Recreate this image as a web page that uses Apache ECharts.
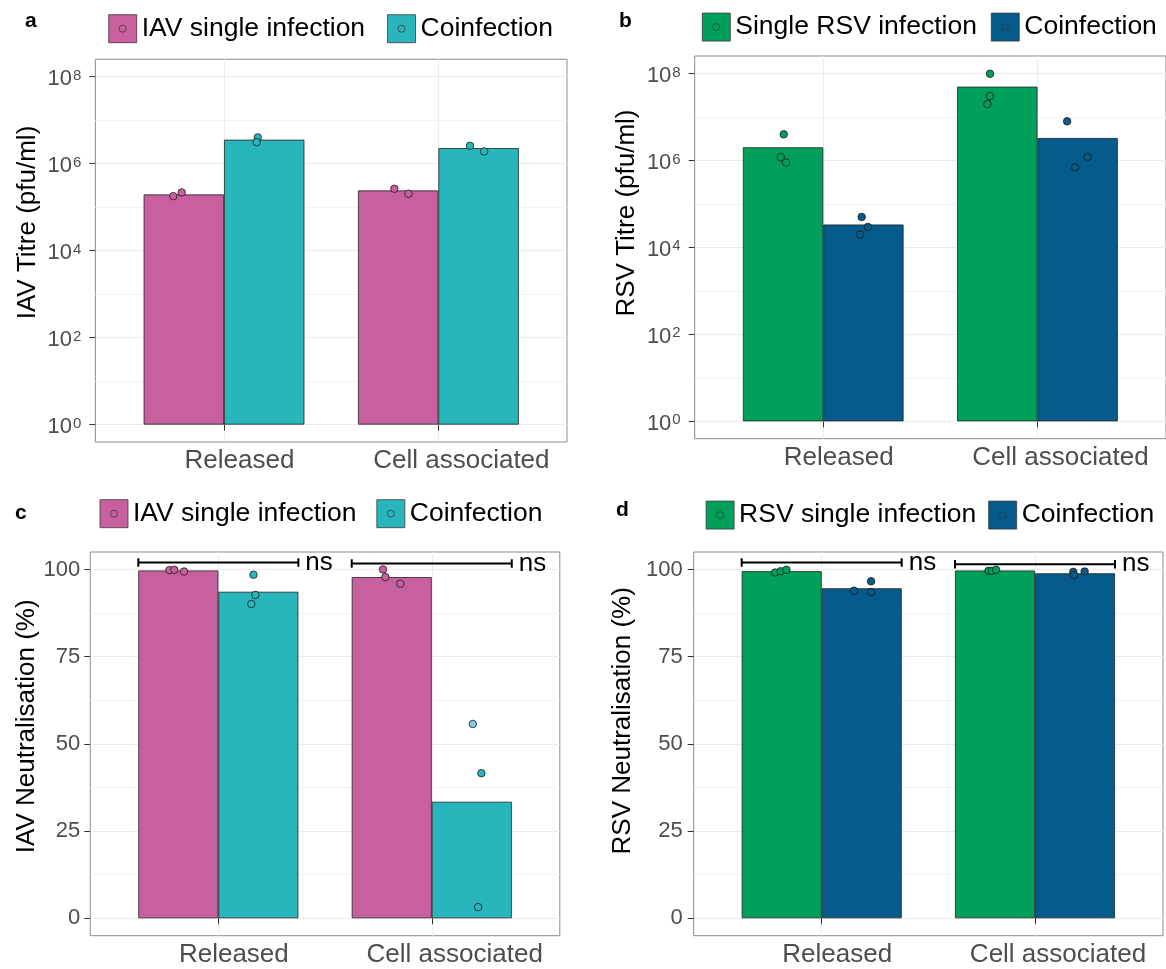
<!DOCTYPE html>
<html>
<head>
<meta charset="utf-8">
<script src="https://cdn.jsdelivr.net/npm/echarts@6/dist/echarts.min.js"></script>
<style>
  html, body { margin: 0; padding: 0; background: #fff; }
  #chart { width: 1166px; height: 969px; }
</style>
</head>
<body>
<div id="chart"></div>
<script>
// x categories (positions 1 and 2 on each panel's x axis)
const categories = ['Released', 'Cell associated'];

// a: IAV titre (pfu/ml) -- bar means, then replicate points per category
const iavTitreSingle = [1.96e5, 2.42e5];
const iavTitreCoinf = [3.56e6, 2.28e6];
const iavTitreSinglePts = [[1.79e5, 2.18e5], [2.65e5, 2.03e5]];
const iavTitreCoinfPts = [[4.02e6, 3.13e6], [2.58e6, 1.91e6]];
const iavTitreSingleJit = [[-0.049, -0.010], [-0.018, 0.048]];
const iavTitreCoinfJit = [[-0.030, -0.035], [-0.040, 0.026]];

// b: RSV titre (pfu/ml)
const rsvTitreSingle = [2.0e6, 4.95e7];
const rsvTitreCoinf = [3.35e4, 3.27e6];
const rsvTitreSinglePts = [[3.97e6, 1.19e6, 8.9e5], [9.8e7, 3.0e7, 1.97e7]];
const rsvTitreCoinfPts = [[5.0e4, 2.95e4, 1.97e4], [7.9e6, 1.19e6, 6.9e5]];
const rsvTitreSingleJit = [[0.003, -0.011, 0.014], [-0.034, -0.035, -0.046]];
const rsvTitreCoinfJit = [[-0.008, 0.021, -0.015], [-0.049, 0.046, -0.012]];

// c: IAV neutralisation (%)
const iavNeutSingle = [99.7, 97.8];
const iavNeutCoinf = [93.6, 33.4];
const iavNeutSinglePts = [[99.8, 99.9, 99.4], [100, 97.8, 95.9]];
const iavNeutCoinfPts = [[98.5, 92.7, 90.1], [55.7, 41.6, 3.2]];
const iavNeutSingleJit = [[-0.042, -0.019, 0.027], [-0.041, -0.030, 0.040]];
const iavNeutCoinfJit = [[-0.023, -0.014, -0.033], [0.005, 0.045, 0.030]];

// d: RSV neutralisation (%)
const rsvNeutSingle = [99.5, 99.7];
const rsvNeutCoinf = [94.6, 98.9];
const rsvNeutSinglePts = [[99.1, 99.5, 99.9], [99.6, 99.6, 99.9]];
const rsvNeutCoinfPts = [[96.6, 93.9, 93.5], [99.3, 98.3, 99.4]];
const rsvNeutSingleJit = [[-0.031, -0.005, 0.022], [-0.031, -0.015, 0.005]];
const rsvNeutCoinfJit = [[0.044, -0.036, 0.044], [-0.008, -0.005, 0.045]];

// ns brackets (height in %, one per category)
const iavNeutBracket = [102.0, 101.7];
const rsvNeutBracket = [102.0, 101.5];

// tick labels
const logTicks = [0, 2, 4, 6, 8];
const logMinor = [1, 3, 5, 7];
const pctTicks = [0, 25, 50, 75, 100];
const pctMinor = [12.5, 37.5, 62.5, 87.5];

const FONT = '"Liberation Sans", Arial, sans-serif';
const MAGENTA = '#C8609F', TEAL = '#28B6BC', GREEN = '#00A05A', BLUE = '#045B8C';
// one odd coloured replicate in panel c
const oddPoint = { panel: 2, group: 1, cat: 1, rep: 0, color: '#7FCBEA' };

const GROUP = 0.75; // barCategoryGap 25%
const dodge = [-GROUP / 4, GROUP / 4];
const keyIcon = 'path://M0,0H28V28H0ZM17.5,14A3.5,3.5,0,1,1,10.5,14A3.5,3.5,0,1,1,17.5,14Z';

const panels = [
  { letter: 'a', letterPos: [25, 21], box: [95.4, 59.3, 471.6, 382.7], log: true,
    title: 'IAV Titre (pfu/ml)', titlePos: [28, 222.5], labelMargin: 14,
    names: ['IAV single infection', 'Coinfection'], colors: [MAGENTA, TEAL],
    bars: [iavTitreSingle, iavTitreCoinf], pts: [iavTitreSinglePts, iavTitreCoinfPts],
    jit: [iavTitreSingleJit, iavTitreCoinfJit], legend: [108.3, 14.3], legendGap: 22 },
  { letter: 'b', letterPos: [619, 21], box: [694.7, 56, 471.6, 382.7], log: true,
    title: 'RSV Titre (pfu/ml)', titlePos: [626.5, 213], labelMargin: 14,
    names: ['Single RSV infection', 'Coinfection '], colors: [GREEN, BLUE],
    bars: [rsvTitreSingle, rsvTitreCoinf], pts: [rsvTitreSinglePts, rsvTitreCoinfPts],
    jit: [rsvTitreSingleJit, rsvTitreCoinfJit], legend: [701.9, 12.7], legendGap: 14 },
  { letter: 'c', letterPos: [15, 513], box: [90.3, 552, 469.5, 383.7], log: false,
    title: 'IAV Neutralisation (%)', titlePos: [27, 726.3], labelMargin: 10,
    names: ['IAV single infection ', 'Coinfection  '], colors: [MAGENTA, TEAL],
    bars: [iavNeutSingle, iavNeutCoinf], pts: [iavNeutSinglePts, iavNeutCoinfPts],
    jit: [iavNeutSingleJit, iavNeutCoinfJit], legend: [99.6, 499.3], legendGap: 20, bracket: iavNeutBracket },
  { letter: 'd', letterPos: [616, 510], box: [693.7, 552, 469.3, 383.7], log: false,
    title: 'RSV Neutralisation (%)', titlePos: [622.8, 720.8], labelMargin: 11,
    names: ['RSV single infection', 'Coinfection   '], colors: [GREEN, BLUE],
    bars: [rsvNeutSingle, rsvNeutCoinf], pts: [rsvNeutSinglePts, rsvNeutCoinfPts],
    jit: [rsvNeutSingleJit, rsvNeutCoinfJit], legend: [705.7, 500.7], legendGap: 12, bracket: rsvNeutBracket }
];

const option = {
  animation: false,
  backgroundColor: '#fff',
  grid: [], xAxis: [], yAxis: [], legend: [], series: [], graphic: []
};

const catRich = {
  c0: { fontSize: 26, fontFamily: FONT, color: '#4D4D4D', padding: [0, 0, 0, 31] },
  c1: { fontSize: 26, fontFamily: FONT, color: '#4D4D4D', padding: [0, 0, 0, 46] }
};

panels.forEach((p, i) => {
  const tf = p.log ? Math.log10 : (v => v);
  const yMin = p.log ? -0.4 : -5;
  const yMax = p.log ? 8.4 : 105;

  option.grid.push({
    left: p.box[0], top: p.box[1], width: p.box[2], height: p.box[3],
    show: true, borderColor: '#8C8C8C', borderWidth: 1, backgroundColor: 'transparent'
  });

  option.xAxis.push({
    type: 'value', gridIndex: i, min: 0.4, max: 2.6,
    axisLine: { show: false },
    axisTick: { customValues: [1, 2], length: 6, lineStyle: { color: '#333' } },
    axisLabel: {
      customValues: [1, 2], margin: 6,
      formatter: v => '{c' + (Math.round(v) - 1) + '|' + categories[Math.round(v) - 1] + '}',
      rich: catRich
    },
    splitLine: { show: true, lineStyle: { color: '#EBEBEB', width: 1 } }
  });

  option.yAxis.push({
    type: 'value', gridIndex: i, min: yMin, max: yMax,
    axisLine: { show: false },
    axisTick: { customValues: p.log ? logTicks : pctTicks, length: 6, lineStyle: { color: '#333' } },
    axisLabel: p.log ? {
      customValues: logTicks, margin: p.labelMargin, padding: [5, 0, 0, 0],
      formatter: v => '{b|10}{e|' + Math.round(v) + '}',
      rich: {
        b: { fontSize: 22, fontFamily: FONT, color: '#4D4D4D', lineHeight: 22, verticalAlign: 'bottom' },
        e: { fontSize: 15, fontFamily: FONT, color: '#4D4D4D', lineHeight: 14, verticalAlign: 'top', padding: [0, 0, 10, 1] }
      }
    } : {
      customValues: pctTicks, margin: p.labelMargin,
      fontSize: 22, fontFamily: FONT, color: '#4D4D4D'
    },
    splitLine: { show: true, lineStyle: { color: '#EBEBEB', width: 1 } }
  });
  // minor grid lines
  option.yAxis.push({
    type: 'value', gridIndex: i, min: yMin, max: yMax,
    axisLine: { show: false },
    axisTick: { show: false, customValues: p.log ? logMinor : pctMinor },
    axisLabel: { show: false },
    splitLine: { show: true, lineStyle: { color: '#F2F2F2', width: 1 } }
  });

  option.legend.push({
    left: p.legend[0], top: p.legend[1], padding: 0,
    itemWidth: 28, itemHeight: 28, itemGap: p.legendGap, itemTextGap: 13,
    icon: keyIcon,
    itemStyle: { borderColor: '#3A3A3A', borderWidth: 0.8 },
    data: p.names.slice(),
    formatter: n => n.trim(),
    selectedMode: false,
    textStyle: { fontSize: 26.5, fontFamily: FONT, color: '#000' }
  });

  [0, 1].forEach(g => {
    option.series.push({
      type: 'bar', name: p.names[g], xAxisIndex: i, yAxisIndex: 2 * i,
      barGap: '0%', barCategoryGap: '25%', silent: true, z: 2,
      itemStyle: { color: p.colors[g], borderColor: '#222', borderWidth: 0.8 },
      data: categories.map((c, j) => [j + 1, tf(p.bars[g][j])])
    });
  });

  [0, 1].forEach(g => {
    const data = [];
    categories.forEach((c, j) => {
      p.pts[g][j].forEach((v, k) => {
        const item = { value: [j + 1 + dodge[g] + p.jit[g][j][k], tf(v)] };
        if (oddPoint.panel === i && oddPoint.group === g && oddPoint.cat === j && oddPoint.rep === k) {
          item.itemStyle = { color: oddPoint.color };
        }
        data.push(item);
      });
    });
    option.series.push({
      type: 'scatter', name: p.names[g].trim() + ' replicates', xAxisIndex: i, yAxisIndex: 2 * i,
      symbolSize: 7.5, silent: true, z: 4,
      itemStyle: { color: p.colors[g], borderColor: '#1A1A1A', borderWidth: 0.8, opacity: 1 },
      data: data
    });
  });

  if (p.bracket) {
    categories.forEach((c, j) => {
      const x0 = j + 1 - GROUP / 2, x1 = j + 1 + GROUP / 2, y = p.bracket[j], h = 1.2;
      option.series.push({
        type: 'line', xAxisIndex: i, yAxisIndex: 2 * i, silent: true, z: 5,
        symbol: 'none', lineStyle: { color: '#000', width: 2 },
        data: [[x0, y + h], [x0, y - h], [x0, y], [x1, y], [x1, y + h], [x1, y - h], [x1, y]],
        endLabel: { show: true, formatter: 'ns', distance: 7, fontSize: 26, fontFamily: FONT, color: '#000' }
      });
    });
  }

  option.graphic.push({
    type: 'text', x: p.letterPos[0], y: p.letterPos[1], silent: true,
    style: { text: p.letter, font: 'bold 21px ' + FONT, fill: '#000', textAlign: 'left', textVerticalAlign: 'middle' }
  });
  option.graphic.push({
    type: 'text', x: p.titlePos[0], y: p.titlePos[1], rotation: Math.PI / 2, silent: true,
    style: { text: p.title, font: '26px ' + FONT, fill: '#000', textAlign: 'center', textVerticalAlign: 'middle' }
  });
});

const chart = echarts.init(document.getElementById('chart'), null, { renderer: 'canvas' });
chart.setOption(option);
</script>
</body>
</html>
